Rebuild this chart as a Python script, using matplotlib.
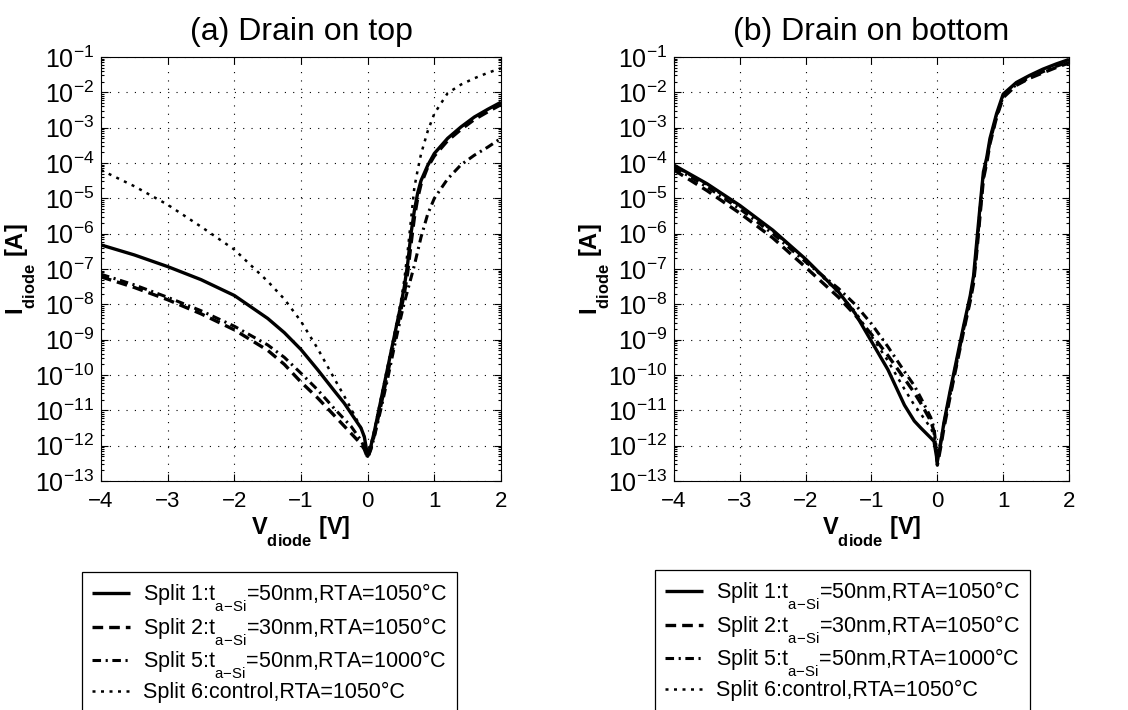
import math
import matplotlib
matplotlib.use("Agg")
import matplotlib.pyplot as plt
from matplotlib import ticker

plt.rcParams["font.family"] = ["Liberation Sans", "DejaVu Sans"]
plt.rcParams["mathtext.fontset"] = "custom"
plt.rcParams["mathtext.rm"] = "Liberation Sans"
plt.rcParams["mathtext.it"] = "Liberation Sans:italic"
plt.rcParams["mathtext.bf"] = "Liberation Sans:bold"

# Drop subscripts lower than the mathtext default, as in the labels
try:
    import matplotlib._mathtext as _mt
    _mt.FontConstantsBase.sub1 = 0.95
    _mt.FontConstantsBase.subdrop = 0.6
except Exception:
    pass

# Diode voltage sweep [V]
v_diode = [-4.0, -3.5, -3.0, -2.5, -2.0, -1.5, -1.25, -1.0, -0.75, -0.5, -0.35,
           -0.25, -0.1, -0.05, 0.0, 0.05, 0.1, 0.2, 0.3, 0.4, 0.5, 0.55, 0.6,
           0.65, 0.7, 0.75, 0.8, 0.9, 1.0, 1.2, 1.4, 1.6, 1.8, 2.0]

# (a) Drain on top: diode current [A]
top_split1 = [4.8e-7, 2.5e-7, 1.17e-7, 5.0e-8, 1.78e-8, 4.0e-9, 1.58e-9, 5.25e-10,
              1.41e-10, 3.55e-11, 1.58e-11, 8.3e-12, 3.16e-12, 1.78e-12, 5.0e-13,
              1.0e-12, 2.5e-12, 2.0e-11, 1.58e-10, 1.26e-9, 1.0e-8, 3.16e-8,
              1.41e-7, 1.0e-6, 4.47e-6, 1.41e-5, 3.16e-5, 8.5e-5, 1.86e-4, 5.0e-4,
              1.05e-3, 2.0e-3, 3.3e-3, 5.25e-3]
top_split2 = [6.0e-8, 3.0e-8, 1.35e-8, 5.4e-9, 1.9e-9, 5.0e-10, 2.0e-10, 6.3e-11,
              2.24e-11, 7.1e-12, 3.55e-12, 2.24e-12, 1.12e-12, 7.9e-13, 4.5e-13,
              8.9e-13, 2.0e-12, 1.41e-11, 1.12e-10, 8.9e-10, 7.1e-9, 2.0e-8,
              7.9e-8, 5.0e-7, 2.8e-6, 1.0e-5, 2.5e-5, 7.6e-5, 1.58e-4, 4.3e-4,
              8.9e-4, 1.7e-3, 2.8e-3, 4.5e-3]
top_split5 = [7.1e-8, 3.55e-8, 1.58e-8, 6.6e-9, 2.4e-9, 7.1e-10, 3.16e-10, 1.12e-10,
              3.8e-11, 1.12e-11, 5.6e-12, 3.55e-12, 1.41e-12, 8.9e-13, 4.5e-13,
              7.9e-13, 1.78e-12, 1.12e-11, 7.9e-11, 6.3e-10, 4.5e-9, 1.12e-8,
              2.5e-8, 5.6e-8, 1.26e-7, 3.16e-7, 7.9e-7, 3.55e-6, 1.0e-5, 3.55e-5,
              8.9e-5, 1.66e-4, 2.8e-4, 5.0e-4]
top_split6 = [6.3e-5, 2.2e-5, 6.6e-6, 1.58e-6, 3.55e-7, 4.5e-8, 1.41e-8, 3.3e-9,
              5.6e-10, 7.9e-11, 2.5e-11, 1.12e-11, 3.16e-12, 1.78e-12, 5.6e-13,
              1.12e-12, 2.8e-12, 2.24e-11, 1.78e-10, 1.41e-9, 1.26e-8, 5.0e-8,
              3.16e-7, 2.5e-6, 2.0e-5, 6.3e-5, 1.78e-4, 7.9e-4, 2.5e-3, 9.5e-3,
              1.66e-2, 2.5e-2, 3.55e-2, 4.8e-2]

# (b) Drain on bottom: diode current [A]
bot_split1 = [8.7e-5, 2.6e-5, 6.3e-6, 1.26e-6, 1.9e-7, 2.24e-8, 5.6e-9, 8.9e-10,
              1.41e-10, 1.41e-11, 5.0e-12, 3.16e-12, 1.66e-12, 1.32e-12, 3.55e-13,
              1.12e-12, 4.5e-12, 4.0e-11, 3.16e-10, 2.5e-9, 1.78e-8, 6.3e-8,
              6.3e-7, 6.3e-6, 5.6e-5, 1.41e-4, 5.0e-4, 2.5e-3, 8.9e-3, 1.9e-2,
              3.0e-2, 4.5e-2, 6.3e-2, 8.5e-2]
bot_split2 = [6.3e-5, 1.66e-5, 3.8e-6, 7.6e-7, 1.12e-7, 1.58e-8, 5.0e-9, 1.41e-9,
              3.55e-10, 7.9e-11, 3.16e-11, 1.58e-11, 5.0e-12, 2.5e-12, 2.8e-13,
              8.9e-13, 3.16e-12, 2.8e-11, 2.24e-10, 1.78e-9, 1.26e-8, 4.0e-8,
              3.16e-7, 3.55e-6, 3.55e-5, 1.0e-4, 3.55e-4, 2.0e-3, 7.1e-3, 1.58e-2,
              2.5e-2, 3.55e-2, 5.0e-2, 6.8e-2]
bot_split5 = [7.6e-5, 2.1e-5, 5.0e-6, 1.0e-6, 1.58e-7, 2.8e-8, 1.0e-8, 2.8e-9,
              6.3e-10, 1.26e-10, 5.0e-11, 2.24e-11, 6.3e-12, 3.16e-12, 4.5e-13,
              1.26e-12, 4.0e-12, 3.16e-11, 2.5e-10, 2.0e-9, 1.41e-8, 5.0e-8,
              4.0e-7, 4.5e-6, 4.5e-5, 1.2e-4, 4.0e-4, 2.1e-3, 7.6e-3, 1.66e-2,
              2.6e-2, 3.8e-2, 5.4e-2, 7.2e-2]
bot_split6 = [8.3e-5, 2.4e-5, 6.0e-6, 1.2e-6, 1.78e-7, 2.1e-8, 6.3e-9, 1.26e-9,
              2.5e-10, 4.0e-11, 1.41e-11, 7.9e-12, 3.16e-12, 2.0e-12, 6.3e-13,
              1.26e-12, 4.5e-12, 3.8e-11, 3.0e-10, 2.4e-9, 1.66e-8, 6.0e-8,
              5.6e-7, 6.0e-6, 5.2e-5, 1.3e-4, 4.6e-4, 2.3e-3, 8.5e-3, 1.86e-2,
              2.95e-2, 4.3e-2, 6.0e-2, 8.1e-2]

panel_titles = ["(a) Drain on top", "(b) Drain on bottom"]
series_labels = [
    r"Split 1:t$_{\mathregular{a{-}Si}}$=50nm,RTA=1050°C",
    r"Split 2:t$_{\mathregular{a{-}Si}}$=30nm,RTA=1050°C",
    r"Split 5:t$_{\mathregular{a{-}Si}}$=50nm,RTA=1000°C",
    "Split 6:control,RTA=1050°C",
]
x_ticks = [-4, -3, -2, -1, 0, 1, 2]
y_exponents = list(range(-13, 0))

line_styles = [
    dict(linestyle="-", linewidth=2.4),
    dict(linestyle=(0, (3.2, 1.8)), linewidth=2.4),
    dict(linestyle=(0, (2.8, 1.5, 0.7, 1.5)), linewidth=2.2),
    dict(linestyle=(0, (1.2, 2.2)), linewidth=1.8),
]

fig = plt.figure(figsize=(11.28, 7.10), dpi=100)
W, H = 1128, 710
ax_boxes = [
    (101 / W, 1 - 481 / H, 400 / W, 424 / H),
    (674 / W, 1 - 481 / H, 395 / W, 424 / H),
]
legend_anchor = [(82 / W, 1 - 572 / H), (655 / W, 1 - 570 / H)]
panel_data = [
    [top_split1, top_split2, top_split5, top_split6],
    [bot_split1, bot_split2, bot_split5, bot_split6],
]


def decade_label(val, pos):
    return r"$\mathregular{10^{%d}}$" % round(math.log10(val))


for k in range(2):
    ax = fig.add_axes(ax_boxes[k])
    handles = []
    for series, style, lab in zip(panel_data[k], line_styles, series_labels):
        h, = ax.plot(v_diode, series, color="black", label=lab,
                     solid_capstyle="butt", dash_capstyle="butt", **style)
        handles.append(h)
    ax.set_yscale("log")
    ax.set_xlim(-4, 2)
    ax.set_ylim(1e-13, 1e-1)
    ax.set_xticks(x_ticks)
    ax.set_xticklabels([f"{t}".replace("-", "\u2212") for t in x_ticks])
    ax.yaxis.set_major_locator(ticker.FixedLocator([10.0 ** e for e in y_exponents]))
    ax.yaxis.set_major_formatter(ticker.FuncFormatter(decade_label))
    ax.yaxis.set_minor_locator(ticker.LogLocator(base=10, subs=range(2, 10), numticks=100))
    ax.yaxis.set_minor_formatter(ticker.NullFormatter())
    ax.tick_params(axis="both", which="both", direction="in", top=True, right=True,
                   width=0.8)
    ax.tick_params(axis="both", which="major", length=5)
    ax.tick_params(axis="y", which="minor", length=2.5)
    ax.tick_params(axis="x", which="major", labelsize=16, pad=7)
    ax.tick_params(axis="y", which="major", labelsize=18, pad=5)
    ax.grid(True, which="major", color="black", linewidth=0.8,
            linestyle=(0, (1, 6.5)))
    for sp in ax.spines.values():
        sp.set_linewidth(0.8)
    ax.set_title(panel_titles[k], fontsize=23, pad=12)
    ax.set_xlabel(r"$\mathbf{V_{diode}}$ [V]", fontsize=17, fontweight="bold",
                  labelpad=2)
    ax.set_ylabel(r"$\mathbf{I_{diode}}$ [A]", fontsize=17, fontweight="bold")
    ax.yaxis.set_label_coords(-0.158, 0.5)
    leg = fig.legend(handles=handles, loc="upper left",
                     bbox_to_anchor=legend_anchor[k], bbox_transform=fig.transFigure,
                     fontsize=15.5, frameon=True, fancybox=False, framealpha=1,
                     edgecolor="black", borderpad=0.45, handlelength=1.8,
                     handletextpad=0.6, labelspacing=0.05, borderaxespad=0)
    leg.get_frame().set_linewidth(0.9)

fig.savefig("out.png", dpi=100)
